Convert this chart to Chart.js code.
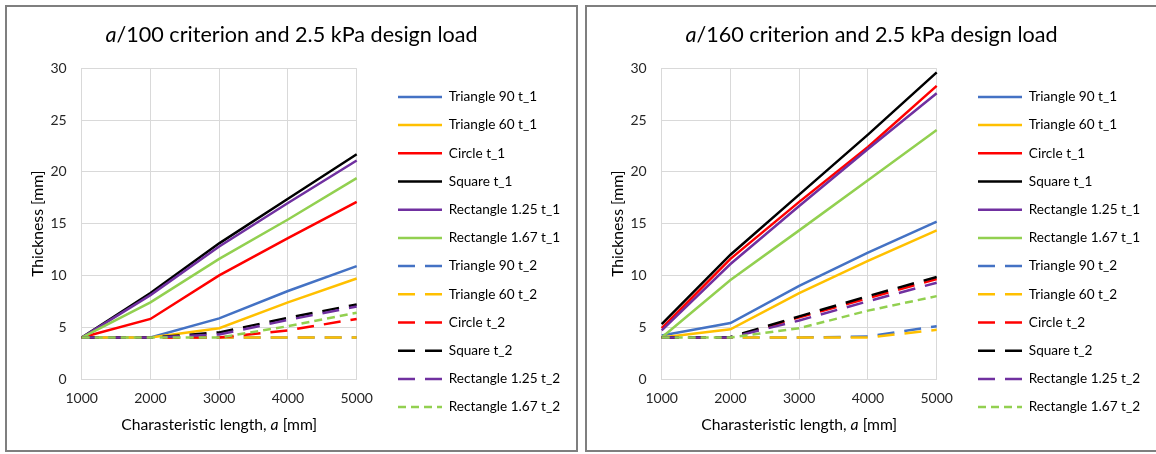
<!DOCTYPE html>
<html>
<head>
<meta charset="utf-8">
<script src="https://cdn.jsdelivr.net/npm/chart.js@4.4.1/dist/chart.umd.min.js"></script>
<style>
html,body{margin:0;padding:0;background:#fff;}
body{width:1156px;height:454px;overflow:hidden;position:relative;}
.panel{position:absolute;top:5px;width:569px;height:443px;border:2px solid #7f7f7f;background:#fff;}
#p1{left:5px;}
#p2{left:585px;}
canvas{display:block;}
</style>
</head>
<body>
<div class="panel" id="p1"><canvas id="c1" width="569" height="443"></canvas></div>
<div class="panel" id="p2"><canvas id="c2" width="569" height="443"></canvas></div>
<script>
// ---------- data ----------
const categories = ['1000', '2000', '3000', '4000', '5000'];
const seriesNames = [
  'Triangle 90 t_1', 'Triangle 60 t_1', 'Circle t_1', 'Square t_1',
  'Rectangle 1.25 t_1', 'Rectangle 1.67 t_1',
  'Triangle 90 t_2', 'Triangle 60 t_2', 'Circle t_2', 'Square t_2',
  'Rectangle 1.25 t_2', 'Rectangle 1.67 t_2'
];

// a/100 criterion
const tri90_t1_100   = [4.0, 4.0, 5.85, 8.5, 10.9];
const tri60_t1_100   = [4.0, 4.0, 4.9, 7.4, 9.7];
const circle_t1_100  = [4.0, 5.8, 10.0, 13.6, 17.1];
const square_t1_100  = [4.0, 8.3, 13.1, 17.4, 21.7];
const rect125_t1_100 = [4.0, 8.1, 12.8, 17.0, 21.1];
const rect167_t1_100 = [4.0, 7.4, 11.6, 15.4, 19.4];
const tri90_t2_100   = [4.0, 4.0, 4.0, 4.0, 4.0];
const tri60_t2_100   = [4.0, 4.0, 4.0, 4.0, 4.0];
const circle_t2_100  = [4.0, 4.0, 4.0, 4.7, 5.8];
const square_t2_100  = [4.0, 4.0, 4.5, 5.9, 7.2];
const rect125_t2_100 = [4.0, 4.0, 4.3, 5.7, 7.0];
const rect167_t2_100 = [4.0, 4.0, 4.0, 5.1, 6.4];

// a/160 criterion
const tri90_t1_160   = [4.2, 5.4, 9.0, 12.2, 15.2];
const tri60_t1_160   = [4.0, 4.8, 8.3, 11.4, 14.35];
const circle_t1_160  = [4.9, 11.6, 17.1, 22.4, 28.3];
const square_t1_160  = [5.3, 12.0, 17.8, 23.6, 29.6];
const rect125_t1_160 = [4.7, 11.1, 16.7, 22.2, 27.6];
const rect167_t1_160 = [4.0, 9.55, 14.35, 19.2, 24.05];
const tri90_t2_160   = [4.0, 4.0, 4.0, 4.1, 5.1];
const tri60_t2_160   = [4.0, 4.0, 4.0, 4.0, 4.75];
const circle_t2_160  = [4.0, 4.0, 5.95, 7.8, 9.65];
const square_t2_160  = [4.0, 4.05, 6.05, 8.0, 9.85];
const rect125_t2_160 = [4.0, 4.0, 5.65, 7.5, 9.3];
const rect167_t2_160 = [4.0, 4.0, 4.9, 6.6, 8.0];

const seriesA100 = [tri90_t1_100, tri60_t1_100, circle_t1_100, square_t1_100, rect125_t1_100, rect167_t1_100,
                    tri90_t2_100, tri60_t2_100, circle_t2_100, square_t2_100, rect125_t2_100, rect167_t2_100];
const seriesA160 = [tri90_t1_160, tri60_t1_160, circle_t1_160, square_t1_160, rect125_t1_160, rect167_t1_160,
                    tri90_t2_160, tri60_t2_160, circle_t2_160, square_t2_160, rect125_t2_160, rect167_t2_160];

const yMin = 0, yMax = 30, yStep = 5;

const title100 = [['a', true], ['/100 criterion and 2.5 kPa design load', false]];
const title160 = [['a', true], ['/160 criterion and 2.5 kPa design load', false]];
const xTitleParts = [['Charasteristic length, ', false], ['a', true], [' [mm]', false]];
const yTitleText = 'Thickness [mm]';

// ---------- styles ----------
const seriesColors = ['#4472C4', '#FFC000', '#FF0000', '#000000', '#7030A0', '#92D050',
                      '#4472C4', '#FFC000', '#FF0000', '#000000', '#7030A0', '#92D050'];
const LONG_DASH = [17, 10];
const SHORT_DASH = [8, 5];
const seriesDash = [[], [], [], [], [], [], LONG_DASH, LONG_DASH, LONG_DASH, LONG_DASH, LONG_DASH, SHORT_DASH];

const FONT = 'Lato, "Noto Sans", sans-serif';
const TICK_SIZE = 14, LEGEND_SIZE = 13.6, AXIS_TITLE_SIZE = 15.7, TITLE_SIZE = 21.6;
const CANVAS_W = 569, CANVAS_H = 443;
const PLOT_LEFT = 74.7, PLOT_RIGHT = 349.7, PLOT_TOP = 61.3, PLOT_BOTTOM = 372;
const LEG_PAD = 14.6, LEG_LINE = 44, LEG_LINE_START = 391;
const Y2W = LEG_LINE_START - LEG_PAD - PLOT_RIGHT;
const LEGEND_BOX_W = CANVAS_W - (PLOT_RIGHT + Y2W);

function drawParts(ctx, parts, cx, cy, size, color) {
  ctx.save();
  ctx.textBaseline = 'alphabetic';
  ctx.textAlign = 'left';
  ctx.fillStyle = color;
  let total = 0;
  const widths = parts.map(([t, it]) => {
    ctx.font = (it ? 'italic ' : 'normal ') + size + 'px ' + FONT;
    const w = ctx.measureText(t).width;
    total += w;
    return w;
  });
  let x = cx - total / 2;
  parts.forEach(([t, it], i) => {
    ctx.font = (it ? 'italic ' : 'normal ') + size + 'px ' + FONT;
    ctx.fillText(t, x, cy);
    x += widths[i];
  });
  ctx.restore();
}

const richTitles = {
  id: 'richTitles',
  afterInit(chart) {
    const lg = chart.legend;
    if (lg && !lg._fixedWidth) {
      const fit = lg.fit;
      lg.fit = function () { fit.call(this); this.width = LEGEND_BOX_W; };
      lg._fixedWidth = true;
    }
  },
  afterDraw(chart, args, opts) {
    const ctx = chart.ctx;
    drawParts(ctx, opts.title, chart.width / 2, 34.5, TITLE_SIZE, '#000');
    const xs = chart.scales.x;
    drawParts(ctx, opts.xTitle, (xs.left + xs.right) / 2, 422.5, AXIS_TITLE_SIZE, '#000');
  }
};

function legendLabels(chart) {
  const items = Chart.defaults.plugins.legend.labels.generateLabels(chart);
  items.forEach(it => {
    const ds = chart.data.datasets[it.datasetIndex];
    it.lineDash = ds.borderDash;
    it.lineWidth = ds.borderWidth;
    it.strokeStyle = ds.borderColor;
    it.fillStyle = ds.borderColor;
    it.pointStyle = 'line';
  });
  return items;
}

function makeChart(id, series, titleParts) {
  const datasets = series.map((vals, i) => ({
    label: seriesNames[i],
    data: vals,
    borderColor: seriesColors[i],
    backgroundColor: seriesColors[i],
    borderWidth: 2.5,
    borderDash: seriesDash[i],
    pointRadius: 0,
    pointHoverRadius: 0,
    tension: 0,
    fill: false,
    order: series.length - 1 - i
  }));
  return new Chart(document.getElementById(id), {
    type: 'line',
    data: { labels: categories, datasets },
    plugins: [richTitles],
    options: {
      responsive: false,
      animation: false,
      events: [],
      layout: { padding: { top: PLOT_TOP, left: 0, right: 0, bottom: 0 } },
      plugins: {
        tooltip: { enabled: false },
        title: { display: false },
        richTitles: { title: titleParts, xTitle: xTitleParts },
        legend: {
          position: 'right',
          align: 'start',
          maxWidth: 400,
          title: { display: true, text: '', font: { size: 1, lineHeight: 1 }, padding: { top: 0, bottom: 6.2 } },
          labels: {
            usePointStyle: true,
            pointStyle: 'line',
            pointStyleWidth: LEG_LINE,
            padding: LEG_PAD,
            color: '#000',
            font: { family: FONT, size: LEGEND_SIZE },
            generateLabels: legendLabels,
            sort: (a, b) => a.datasetIndex - b.datasetIndex
          }
        }
      },
      scales: {
        x: {
          type: 'category',
          offset: false,
          grid: { color: '#d9d9d9', lineWidth: 1, drawTicks: false, offset: false },
          border: { color: '#d9d9d9', width: 1 },
          ticks: { color: '#262626', font: { family: FONT, size: TICK_SIZE }, padding: 10.6, maxRotation: 0, autoSkip: false },
          afterFit(s) { s.height = CANVAS_H - PLOT_BOTTOM; }
        },
        y: {
          min: yMin, max: yMax,
          grid: { color: '#d9d9d9', lineWidth: 1, drawTicks: false },
          border: { color: '#d9d9d9', width: 1 },
          ticks: { stepSize: yStep, color: '#262626', font: { family: FONT, size: TICK_SIZE }, padding: 15 },
          title: { display: true, text: yTitleText, color: '#000', font: { family: FONT, size: AXIS_TITLE_SIZE }, padding: { top: 21.5, bottom: 0 } },
          afterFit(s) { s.width = PLOT_LEFT; }
        },
        y2: {
          position: 'right',
          display: true,
          grid: { display: false, drawTicks: false },
          border: { display: false },
          ticks: { display: false },
          afterFit(s) { s.width = Y2W; }
        }
      }
    }
  });
}

makeChart('c1', seriesA100, title100);
makeChart('c2', seriesA160, title160);
</script>
</body>
</html>
